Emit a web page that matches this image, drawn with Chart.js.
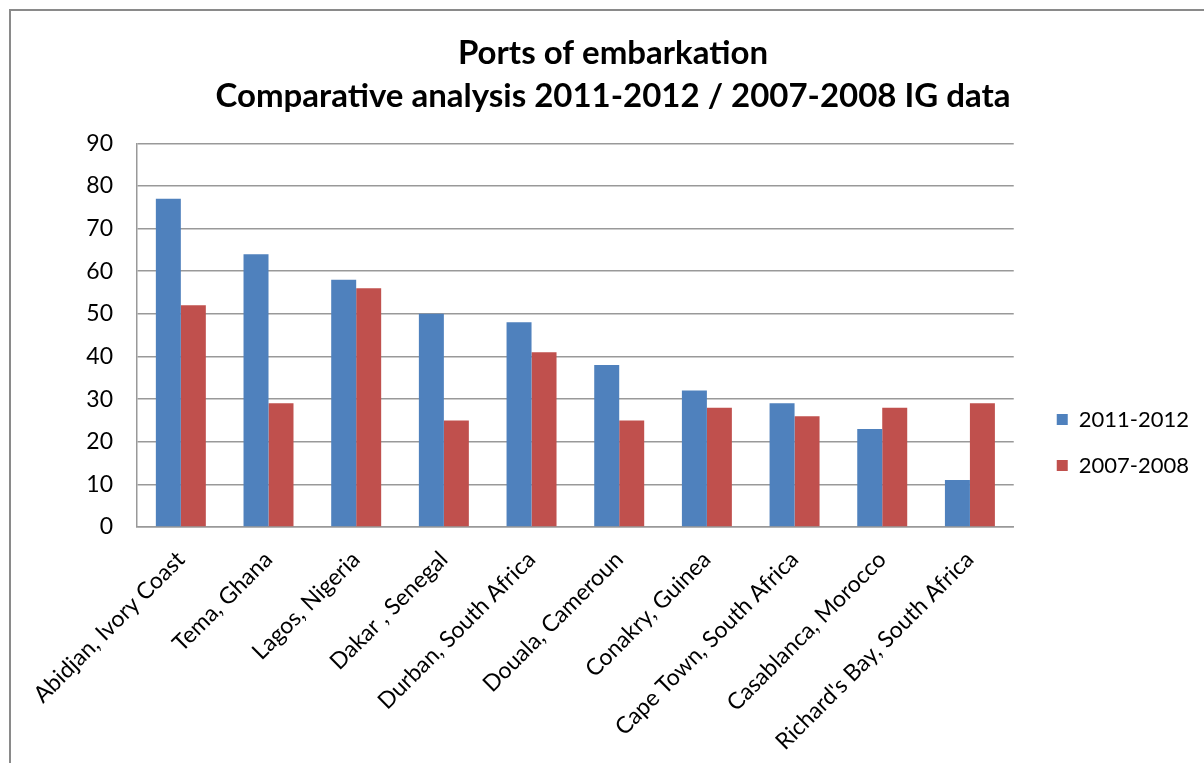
<!DOCTYPE html>
<html>
<head>
<meta charset="utf-8">
<title>Ports of embarkation</title>
<script src="https://cdn.jsdelivr.net/npm/chart.js@4.4.1/dist/chart.umd.min.js"></script>
<style>
    html, body { margin: 0; padding: 0; background: #fff; overflow: hidden; }
    #frame {
        position: absolute; left: 9px; top: 9px;
        width: 1300px; height: 900px;
        border: 2px solid #8a8a8a;
    }
    #chart-ports { position: absolute; left: 0; top: 0; }
</style>
</head>
<body>
<div id="frame"></div>
<canvas id="chart-ports" width="1204" height="763"></canvas>
<script>
// Ports and counts for both survey periods
const ports = [
    "Abidjan, Ivory Coast", "Tema, Ghana", "Lagos, Nigeria", "Dakar , Senegal",
    "Durban, South Africa", "Douala, Cameroun", "Conakry, Guinea",
    "Cape Town, South Africa", "Casablanca, Morocco", "Richard's Bay, South Africa"
];
const values2011 = [77, 64, 58, 50, 48, 38, 32, 29, 23, 11];
const values2007 = [52, 29, 56, 25, 41, 25, 28, 26, 28, 29];
const seriesNames = ["2011-2012", "2007-2008"];
const yTicks = [0, 10, 20, 30, 40, 50, 60, 70, 80, 90];

const FONT = "Lato";

// Push the legend down and right so it sits beside the label area
const legendShift = {
    id: 'legendShift',
    afterLayout(chart) {
        const lg = chart.legend;
        lg.left += 19;
        lg.right += 19;
        lg.top += 56;
        lg.bottom += 56;
    }
};

const chartPorts = {
    type: "bar",
    data: {
        labels: ports,
        datasets: [{
            label: seriesNames[0],
            data: values2011,
            backgroundColor: "#4F81BD",
            borderWidth: 0,
            categoryPercentage: 0.57,
            barPercentage: 1.0
        }, {
            label: seriesNames[1],
            data: values2007,
            backgroundColor: "#C0504D",
            borderWidth: 0,
            categoryPercentage: 0.57,
            barPercentage: 1.0
        }]
    },
    options: {
        responsive: false,
        animation: false,
        layout: {
            padding: { top: 10, left: 46, right: 24, bottom: 0 }
        },
        plugins: {
            title: {
                display: true,
                text: ["Ports of embarkation", "Comparative analysis 2011-2012 / 2007-2008 IG data"],
                color: "#000",
                font: { family: FONT, size: 33, weight: "bold", lineHeight: 1.3 },
                padding: { top: 22, bottom: 25.5 }
            },
            legend: {
                position: "right",
                labels: {
                    boxWidth: 11,
                    boxHeight: 11,
                    padding: 24,
                    color: "#000",
                    font: { family: FONT, size: 22 }
                }
            },
            tooltip: { enabled: false }
        },
        scales: {
            y: {
                min: 0,
                max: 90,
                afterFit(scale) { scale.width = 91; },
                afterBuildTicks(scale) {
                    scale.ticks = yTicks.map(v => ({ value: v }));
                },
                grid: {
                    color: "#999999",
                    lineWidth: 1.5,
                    drawTicks: false
                },
                border: { display: true, color: "#999999", width: 1.5 },
                ticks: {
                    padding: 24,
                    color: "#000",
                    font: { family: FONT, size: 23 }
                }
            },
            x: {
                afterFit(scale) { scale.height = 236; },
                grid: { display: false },
                border: { display: true, color: "#999999", width: 1.5 },
                ticks: {
                    autoSkip: false,
                    minRotation: 45,
                    maxRotation: 45,
                    padding: 11,
                    color: "#000",
                    font: { family: FONT, size: 23 }
                }
            }
        }
    },
    plugins: [legendShift]
};

const ctx = document.getElementById('chart-ports').getContext('2d');
const chart1 = new Chart(ctx, chartPorts);
</script>
</body>
</html>
